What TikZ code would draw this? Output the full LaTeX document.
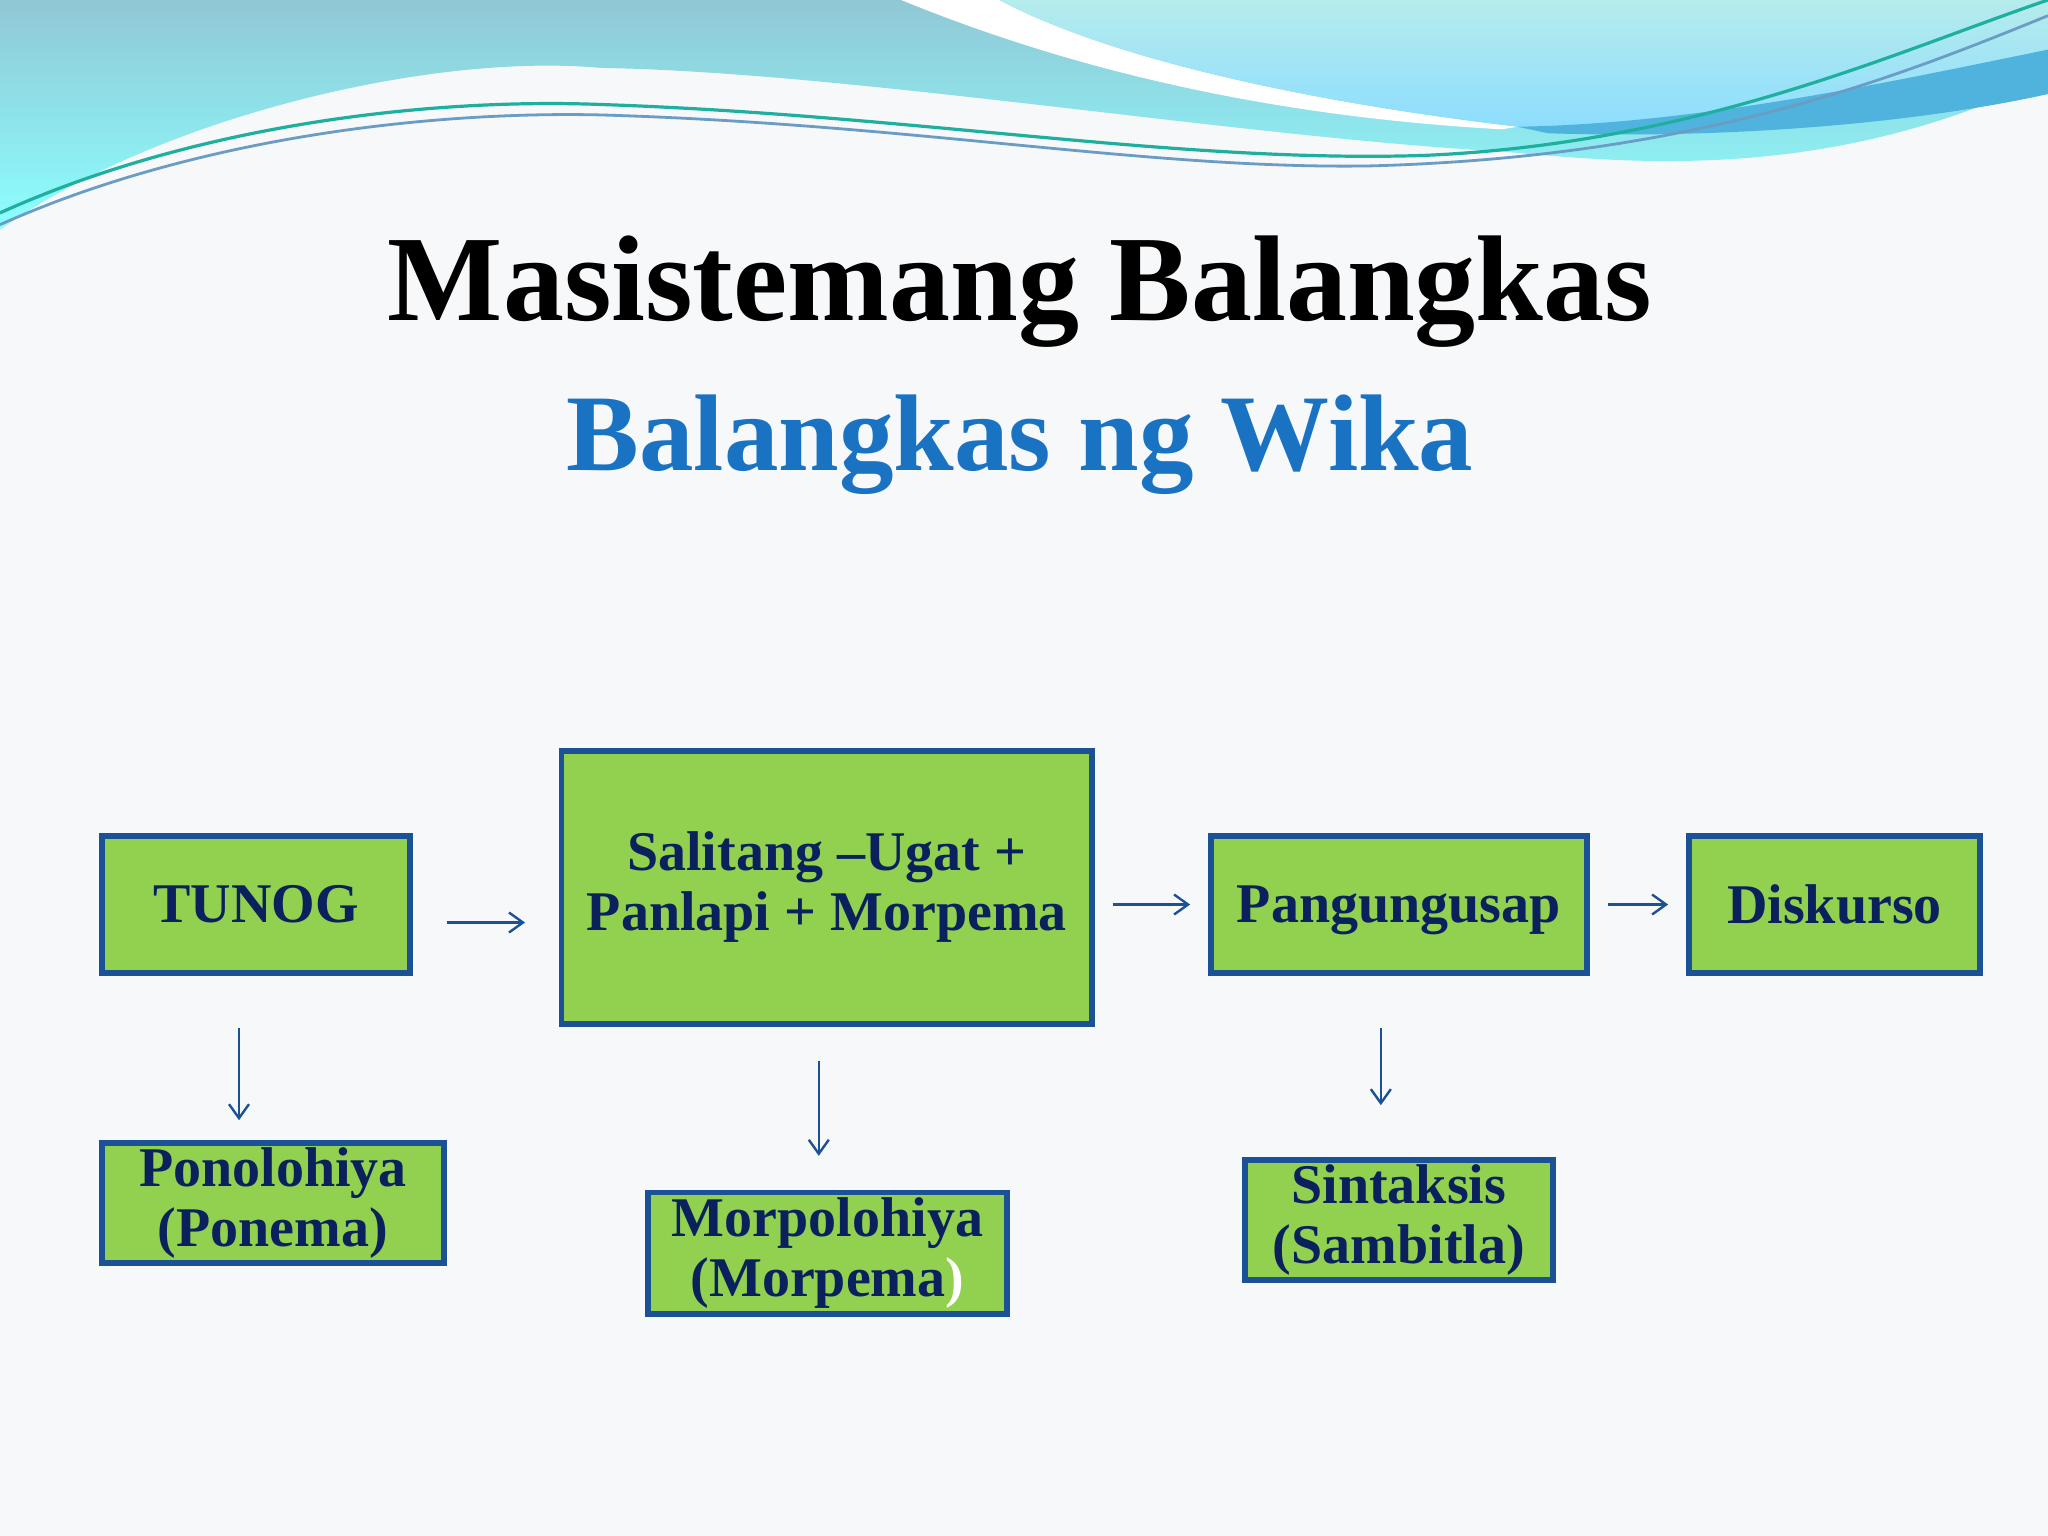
\documentclass[tikz,border=0pt]{standalone}
\usepackage{fontspec}
\setmainfont{Liberation Serif}
\usetikzlibrary{positioning,arrows.meta}

\definecolor{boxgreen}{HTML}{92D050}
\definecolor{boxline}{HTML}{1B5296}
\definecolor{navy}{HTML}{0B215E}
\definecolor{subblue}{HTML}{1A73C2}
\definecolor{paper}{HTML}{F7F8FA}
\definecolor{waveband}{HTML}{4FB3DE}
\definecolor{waveteal}{HTML}{1FAF9E}
\definecolor{wavegray}{HTML}{6A9CC4}

\tikzset{
  stage/.style={draw=boxline, line width=2.7pt, fill=boxgreen, text=navy,
    font=\bfseries\fontsize{28}{30}\selectfont, align=center, inner sep=0pt},
  flow/.style={draw=boxline, line width=1.2pt, -{Straight Barb[length=7pt,width=10pt]}}
}

\begin{document}
\begin{tikzpicture}[x=0.653pt, y=-0.653pt]
\useasboundingbox (0,0) rectangle (1568,1176);
\fill[paper] (0,0) rectangle (1568,1176);

% top waves
\shade[top color=blue!20!cyan!45!gray!60, bottom color=cyan!45!white]
  (0,0) -- (1568,0) -- (1568,59) .. controls (1400,140) and (1250,125) .. (1150,116)
  .. controls (950,105) and (650,55) .. (460,52)
  .. controls (330,40) and (120,90) .. (0,176) -- cycle;
\fill[white] (690,0) .. controls (800,45) and (950,88) .. (1150,99)
  -- (1162,97) .. controls (1000,78) and (850,45) .. (765,0) -- cycle;
\shade[top color=cyan!25!white!85!gray, bottom color=blue!30!cyan!45!white]
  (765,0) -- (1568,0) -- (1568,38) .. controls (1420,80) and (1280,100) .. (1162,97)
  .. controls (1000,78) and (850,45) .. (765,0) -- cycle;
\fill[waveband] (1162,97) .. controls (1300,95) and (1450,62) .. (1568,38)
  -- (1568,72) .. controls (1450,98) and (1300,106) .. (1185,102) -- cycle;
\draw[waveteal, line width=1.6pt] (0,163) .. controls (150,95) and (330,75) .. (460,80)
  .. controls (700,88) and (900,125) .. (1090,119) .. controls (1300,110) and (1450,40) .. (1568,0);
\draw[wavegray, line width=1.4pt] (0,172) .. controls (150,105) and (330,85) .. (460,88)
  .. controls (700,95) and (880,130) .. (1050,127) .. controls (1300,120) and (1450,60) .. (1568,12);

% titles
\node[anchor=base, font=\bfseries\fontsize{61}{66}\selectfont] (title) at (781,245) {Masistemang Balangkas};
\node[anchor=base, text=subblue, font=\bfseries\fontsize{54.5}{60}\selectfont] (subtitle) at (781,360) {Balangkas ng Wika};

% stages
\node[stage, minimum width=154pt, minimum height=68.6pt] (tunog) at (196,692.5) {TUNOG};
\node[stage, minimum width=265pt, minimum height=136.5pt] (salitang) at (633,679.5) {Salitang –Ugat +\\Panlapi + Morpema};
\node[stage, minimum width=188pt, minimum height=68.6pt, text depth=0pt] (pang) at (1071,692.5) {Pangungusap};
\node[stage, minimum width=145.6pt, minimum height=68.6pt] (disk) at (1404.5,692.5) {Diskurso};
\node[stage, minimum width=171pt, minimum height=60pt] (pono) at (209,921) {Ponolohiya\\(Ponema)};
\node[stage, minimum width=179.6pt, minimum height=60.7pt] (morp) at (633.5,959.5) {Morpolohiya\\(Morpema\textcolor{white}{)}};
\node[stage, minimum width=154pt, minimum height=60pt] (sint) at (1071,934) {Sintaksis\\(Sambitla)};

% arrows
\draw[flow, shorten <=17pt, shorten >=17pt] ([yshift=-9pt]tunog.east) -- ([yshift=-9pt]tunog.east -| salitang.west);
\draw[flow, shorten <=9pt, shorten >=9pt] (salitang.east |- pang.west) -- (pang.west);
\draw[flow, shorten <=9pt, shorten >=9pt] (pang.east) -- (disk.west);
\draw[flow, shorten <=26pt, shorten >=10pt] ([xshift=-8.5pt]tunog.south) -- ([xshift=-8.5pt]tunog.south |- pono.north);
\draw[flow, shorten <=17pt, shorten >=17pt] ([xshift=-4pt]salitang.south) -- ([xshift=-4pt]salitang.south |- morp.north);
\draw[flow, shorten <=26pt, shorten >=26pt] ([xshift=-9pt]pang.south) -- ([xshift=-9pt]pang.south |- sint.north);
\end{tikzpicture}
\end{document}
